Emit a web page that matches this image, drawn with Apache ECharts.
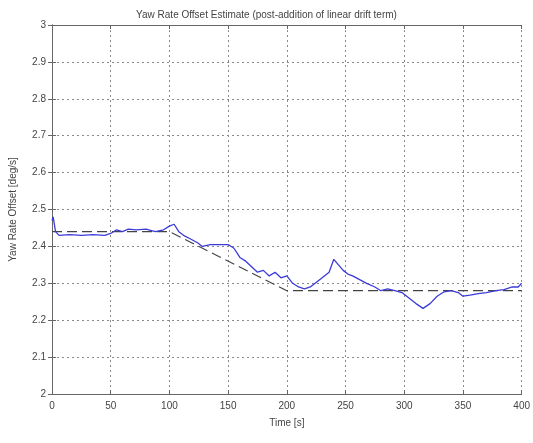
<!DOCTYPE html>
<html>
<head>
<meta charset="utf-8">
<script src="https://cdn.jsdelivr.net/npm/echarts@6/dist/echarts.min.js"></script>
<style>
html, body { margin: 0; padding: 0; background: #fff; }
#chart { width: 533px; height: 443px; }
</style>
</head>
<body>
<div id="chart"></div>
<script>
// estimate (blue) - time [s], offset [deg/s]
var estTime = [0, 1, 3, 6, 15, 25, 35, 45, 50, 55, 60, 65, 72, 80, 88, 95, 100, 104, 108, 112,
	118, 124, 128, 135, 142, 150, 155, 160, 165, 170, 175, 180, 185, 190, 195, 200, 205, 210, 215, 220,
	226, 232, 236, 240, 244, 248, 252, 256, 262, 268, 275, 280, 286, 292, 298, 304, 310, 316, 322, 328,
	334, 340, 346, 350, 356, 363, 370, 378, 385, 392, 397, 400];
var estValue = [2.47, 2.48, 2.44, 2.43, 2.432, 2.43, 2.432, 2.43, 2.435, 2.445, 2.44, 2.447, 2.445, 2.447, 2.44, 2.445, 2.455, 2.46, 2.44, 2.43,
	2.42, 2.41, 2.40, 2.405, 2.405, 2.405, 2.395, 2.37, 2.36, 2.345, 2.33, 2.335, 2.32, 2.33, 2.315, 2.32, 2.30, 2.29, 2.285, 2.29,
	2.305, 2.32, 2.33, 2.365, 2.35, 2.335, 2.325, 2.32, 2.31, 2.30, 2.29, 2.28, 2.285, 2.28, 2.275, 2.26, 2.245, 2.232, 2.245, 2.265,
	2.277, 2.28, 2.275, 2.265, 2.268, 2.272, 2.275, 2.28, 2.283, 2.29, 2.29, 2.30];

// drift model (dashed)
var driftTime = [0, 100, 200, 400];
var driftValue = [2.44, 2.44, 2.28, 2.28];

function pairs(xs, ys) {
	var out = [];
	for (var i = 0; i < xs.length; i++) {
		out.push([xs[i], ys[i]]);
	}
	return out;
}

var labelFont = 'Liberation Sans';
var gridLine = {
	show : true,
	lineStyle : {
		type : [2, 3],
		color : '#8a8a8a',
		width : 1
	}
};

var option = {
	animation : false,
	backgroundColor : '#fff',
	title : {
		text : 'Yaw Rate Offset Estimate (post-addition of linear drift term)',
		left : 'center',
		top : 5,
		textStyle : {
			color : '#444',
			fontSize : 10,
			fontWeight : 'normal',
			fontFamily : labelFont
		}
	},
	grid : {
		left : 52,
		right : 10,
		top : 25,
		bottom : 49
	},
	xAxis : [ {
		type : 'value',
		min : 0,
		max : 400,
		interval : 50,
		name : 'Time [s]',
		nameLocation : 'middle',
		nameGap : 24,
		nameTextStyle : {
			color : '#444',
			fontSize : 10,
			fontFamily : labelFont
		},
		axisLine : {
			lineStyle : {
				color : '#666'
			}
		},
		axisTick : {
			inside : true,
			length : 4,
			lineStyle : {
				color : '#666'
			}
		},
		axisLabel : {
			color : '#444',
			fontSize : 10,
			fontFamily : labelFont,
			margin : 7
		},
		splitLine : gridLine
	}, {
		type : 'value',
		position : 'top',
		min : 0,
		max : 400,
		interval : 50,
		axisLine : {
			lineStyle : {
				color : '#666'
			}
		},
		axisTick : {
			inside : true,
			length : 4,
			lineStyle : {
				color : '#666'
			}
		},
		axisLabel : {
			show : false
		},
		splitLine : {
			show : false
		}
	} ],
	yAxis : [ {
		type : 'value',
		min : 2,
		max : 3,
		interval : 0.1,
		name : 'Yaw Rate Offset [deg/s]',
		nameLocation : 'middle',
		nameGap : 34,
		nameTextStyle : {
			color : '#444',
			fontSize : 10,
			fontFamily : labelFont
		},
		axisLine : {
			show : true,
			lineStyle : {
				color : '#666'
			}
		},
		axisTick : {
			show : true,
			inside : true,
			length : 4,
			lineStyle : {
				color : '#666'
			}
		},
		axisLabel : {
			color : '#444',
			fontSize : 10,
			fontFamily : labelFont,
			margin : 6,
			formatter : function(v) {
				return String(Math.round(v * 10) / 10);
			}
		},
		splitLine : gridLine
	}, {
		type : 'value',
		position : 'right',
		min : 2,
		max : 3,
		interval : 0.1,
		axisLine : {
			show : true,
			lineStyle : {
				color : '#666'
			}
		},
		axisTick : {
			show : true,
			inside : true,
			length : 4,
			lineStyle : {
				color : '#666'
			}
		},
		axisLabel : {
			show : false
		},
		splitLine : {
			show : false
		}
	} ],
	series : [ {
		name : 'drift',
		type : 'line',
		showSymbol : false,
		data : pairs(driftTime, driftValue),
		lineStyle : {
			color : '#444',
			width : 1.2,
			type : [10, 5]
		},
		z : 2
	}, {
		name : 'estimate',
		type : 'line',
		showSymbol : false,
		data : pairs(estTime, estValue),
		lineStyle : {
			color : '#3b3bd8',
			width : 1.3
		},
		z : 3
	} ]
};

var myChart = echarts.init(document.getElementById('chart'));
myChart.setOption(option);
</script>
</body>
</html>
